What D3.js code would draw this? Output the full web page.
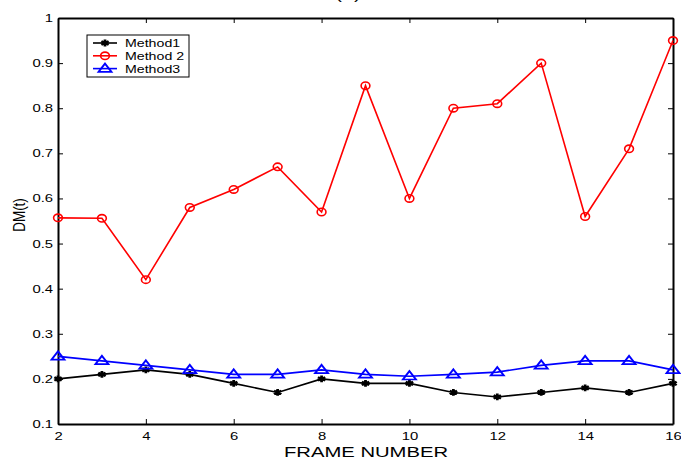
<!DOCTYPE html>
<html>
<head>
<meta charset="utf-8">
<script src="https://cdn.jsdelivr.net/npm/d3@7"></script>
<style>
  body { margin: 0; background: #fff; }
  svg { font-family: "Liberation Sans", Arial, sans-serif; }
</style>
</head>
<body>
<div class="container"></div>
<script>
const frames = [2, 3, 4, 5, 6, 7, 8, 9, 10, 11, 12, 13, 14, 15, 16]
const method1 = [0.2, 0.21, 0.22, 0.21, 0.19, 0.17, 0.2, 0.19, 0.19, 0.17, 0.16, 0.17, 0.18, 0.17, 0.19]
const method2 = [0.557, 0.556, 0.42, 0.58, 0.62, 0.67, 0.57, 0.85, 0.6, 0.8, 0.81, 0.9, 0.56, 0.71, 0.95]
const method3 = [0.25, 0.24, 0.23, 0.22, 0.21, 0.21, 0.22, 0.21, 0.206, 0.21, 0.215, 0.23, 0.24, 0.24, 0.22]
const xTicks = [2, 4, 6, 8, 10, 12, 14, 16]
const yTicks = [0.1, 0.2, 0.3, 0.4, 0.5, 0.6, 0.7, 0.8, 0.9, 1]
const names = ['Method1', 'Method 2', 'Method3']

const width = 681
const height = 461
const plotLeft = 58, plotRight = 673, plotTop = 18, plotBottom = 424
// the original figure is stretched sideways, so text is widened a bit
const stretch = 1.35

const svg = d3.select('.container')
    .append('svg')
    .attr('width', width)
    .attr('height', height)

const scaleX = d3.scaleLinear().domain([2, 16]).range([plotLeft, plotRight])
const scaleY = d3.scaleLinear().domain([0.1, 1]).range([plotBottom, plotTop])

// title, mostly cut off at the top
svg.append('text')
    .attr('transform', `translate(348, -1.5) scale(${stretch},1)`)
    .attr('text-anchor', 'middle')
    .style('font-size', '16px')
    .text('(a)')

// axes: ticks point inward on all four sides
const fmt = d => d === 1 ? '1' : d3.format('.1f')(d)

svg.append('g')
    .attr('transform', `translate(0, ${plotBottom})`)
    .call(d3.axisBottom(scaleX).tickValues(xTicks).tickSizeInner(-5).tickSizeOuter(0).tickPadding(8))
svg.append('g')
    .attr('transform', `translate(0, ${plotTop})`)
    .call(d3.axisTop(scaleX).tickValues(xTicks).tickSizeInner(-5).tickSizeOuter(0).tickFormat(''))
const yAxis = svg.append('g')
    .attr('transform', `translate(${plotLeft}, 0)`)
    .call(d3.axisLeft(scaleY).tickValues(yTicks).tickSizeInner(-5).tickSizeOuter(0).tickFormat(fmt))
svg.append('g')
    .attr('transform', `translate(${plotRight}, 0)`)
    .call(d3.axisRight(scaleY).tickValues(yTicks).tickSizeInner(-5).tickSizeOuter(0).tickFormat(''))

svg.selectAll('.domain').attr('stroke', '#000').attr('stroke-width', 2)
svg.selectAll('.tick line').attr('stroke', '#000').attr('stroke-width', 1)
svg.selectAll('.tick text').style('font-size', '11px').attr('fill', '#000')
    .attr('transform', `scale(${stretch},1)`)
yAxis.selectAll('.tick text').attr('x', -5 / stretch)

svg.append('text')
    .attr('transform', `translate(366, 457) scale(${stretch},1)`)
    .attr('text-anchor', 'middle')
    .style('font-size', '15px')
    .text('FRAME NUMBER')

svg.append('text')
    .attr('transform', `translate(25, 215) scale(1.2,1) rotate(-90)`)
    .attr('text-anchor', 'middle')
    .style('font-size', '13.5px')
    .text('DM(t)')

const line = d3.line()
    .x((d, i) => scaleX(frames[i]))
    .y(d => scaleY(d))

const series = [
    { values: method1, color: '#000', marker: 'star' },
    { values: method2, color: '#f00', marker: 'circle' },
    { values: method3, color: '#00f', marker: 'triangle' }
]

const starPath = d3.symbol().type(d3.symbolAsterisk).size(32)()
const triPath = d3.symbol().type(d3.symbolTriangle).size(40)()

function drawMarker(g, type, color, x, y) {
    if (type === 'circle') {
        g.append('ellipse').attr('cx', x).attr('cy', y).attr('rx', 4.4).attr('ry', 3.7)
            .attr('fill', 'none').attr('stroke', color).attr('stroke-width', 1.6)
    } else if (type === 'star') {
        g.append('path').attr('d', starPath).attr('transform', `translate(${x},${y}) scale(1.25,1)`)
            .attr('fill', 'none').attr('stroke', color).attr('stroke-width', 2.2)
    } else {
        g.append('path').attr('d', triPath).attr('transform', `translate(${x},${y + 0.5}) scale(1.35,1)`)
            .attr('fill', 'none').attr('stroke', color).attr('stroke-width', 1.6)
    }
}

series.forEach(s => {
    svg.append('path')
        .datum(s.values)
        .attr('d', line)
        .attr('fill', 'none')
        .attr('stroke', s.color)
        .attr('stroke-width', 1.6)
    const g = svg.append('g')
    s.values.forEach((v, i) => drawMarker(g, s.marker, s.color, scaleX(frames[i]), scaleY(v)))
})

// legend
const legend = svg.append('g')
legend.append('rect')
    .attr('x', 87).attr('y', 35).attr('width', 102).attr('height', 42)
    .attr('fill', '#fff').attr('stroke', '#000').attr('stroke-width', 1)
series.forEach((s, i) => {
    const y = 43 + i * 12.8
    legend.append('line')
        .attr('x1', 93).attr('x2', 117).attr('y1', y).attr('y2', y)
        .attr('stroke', s.color).attr('stroke-width', 1.6)
    drawMarker(legend, s.marker, s.color, 105, y)
    legend.append('text')
        .attr('transform', `translate(125, ${y + 4}) scale(${stretch},1)`)
        .style('font-size', '10.5px')
        .text(names[i])
})
</script>
</body>
</html>
